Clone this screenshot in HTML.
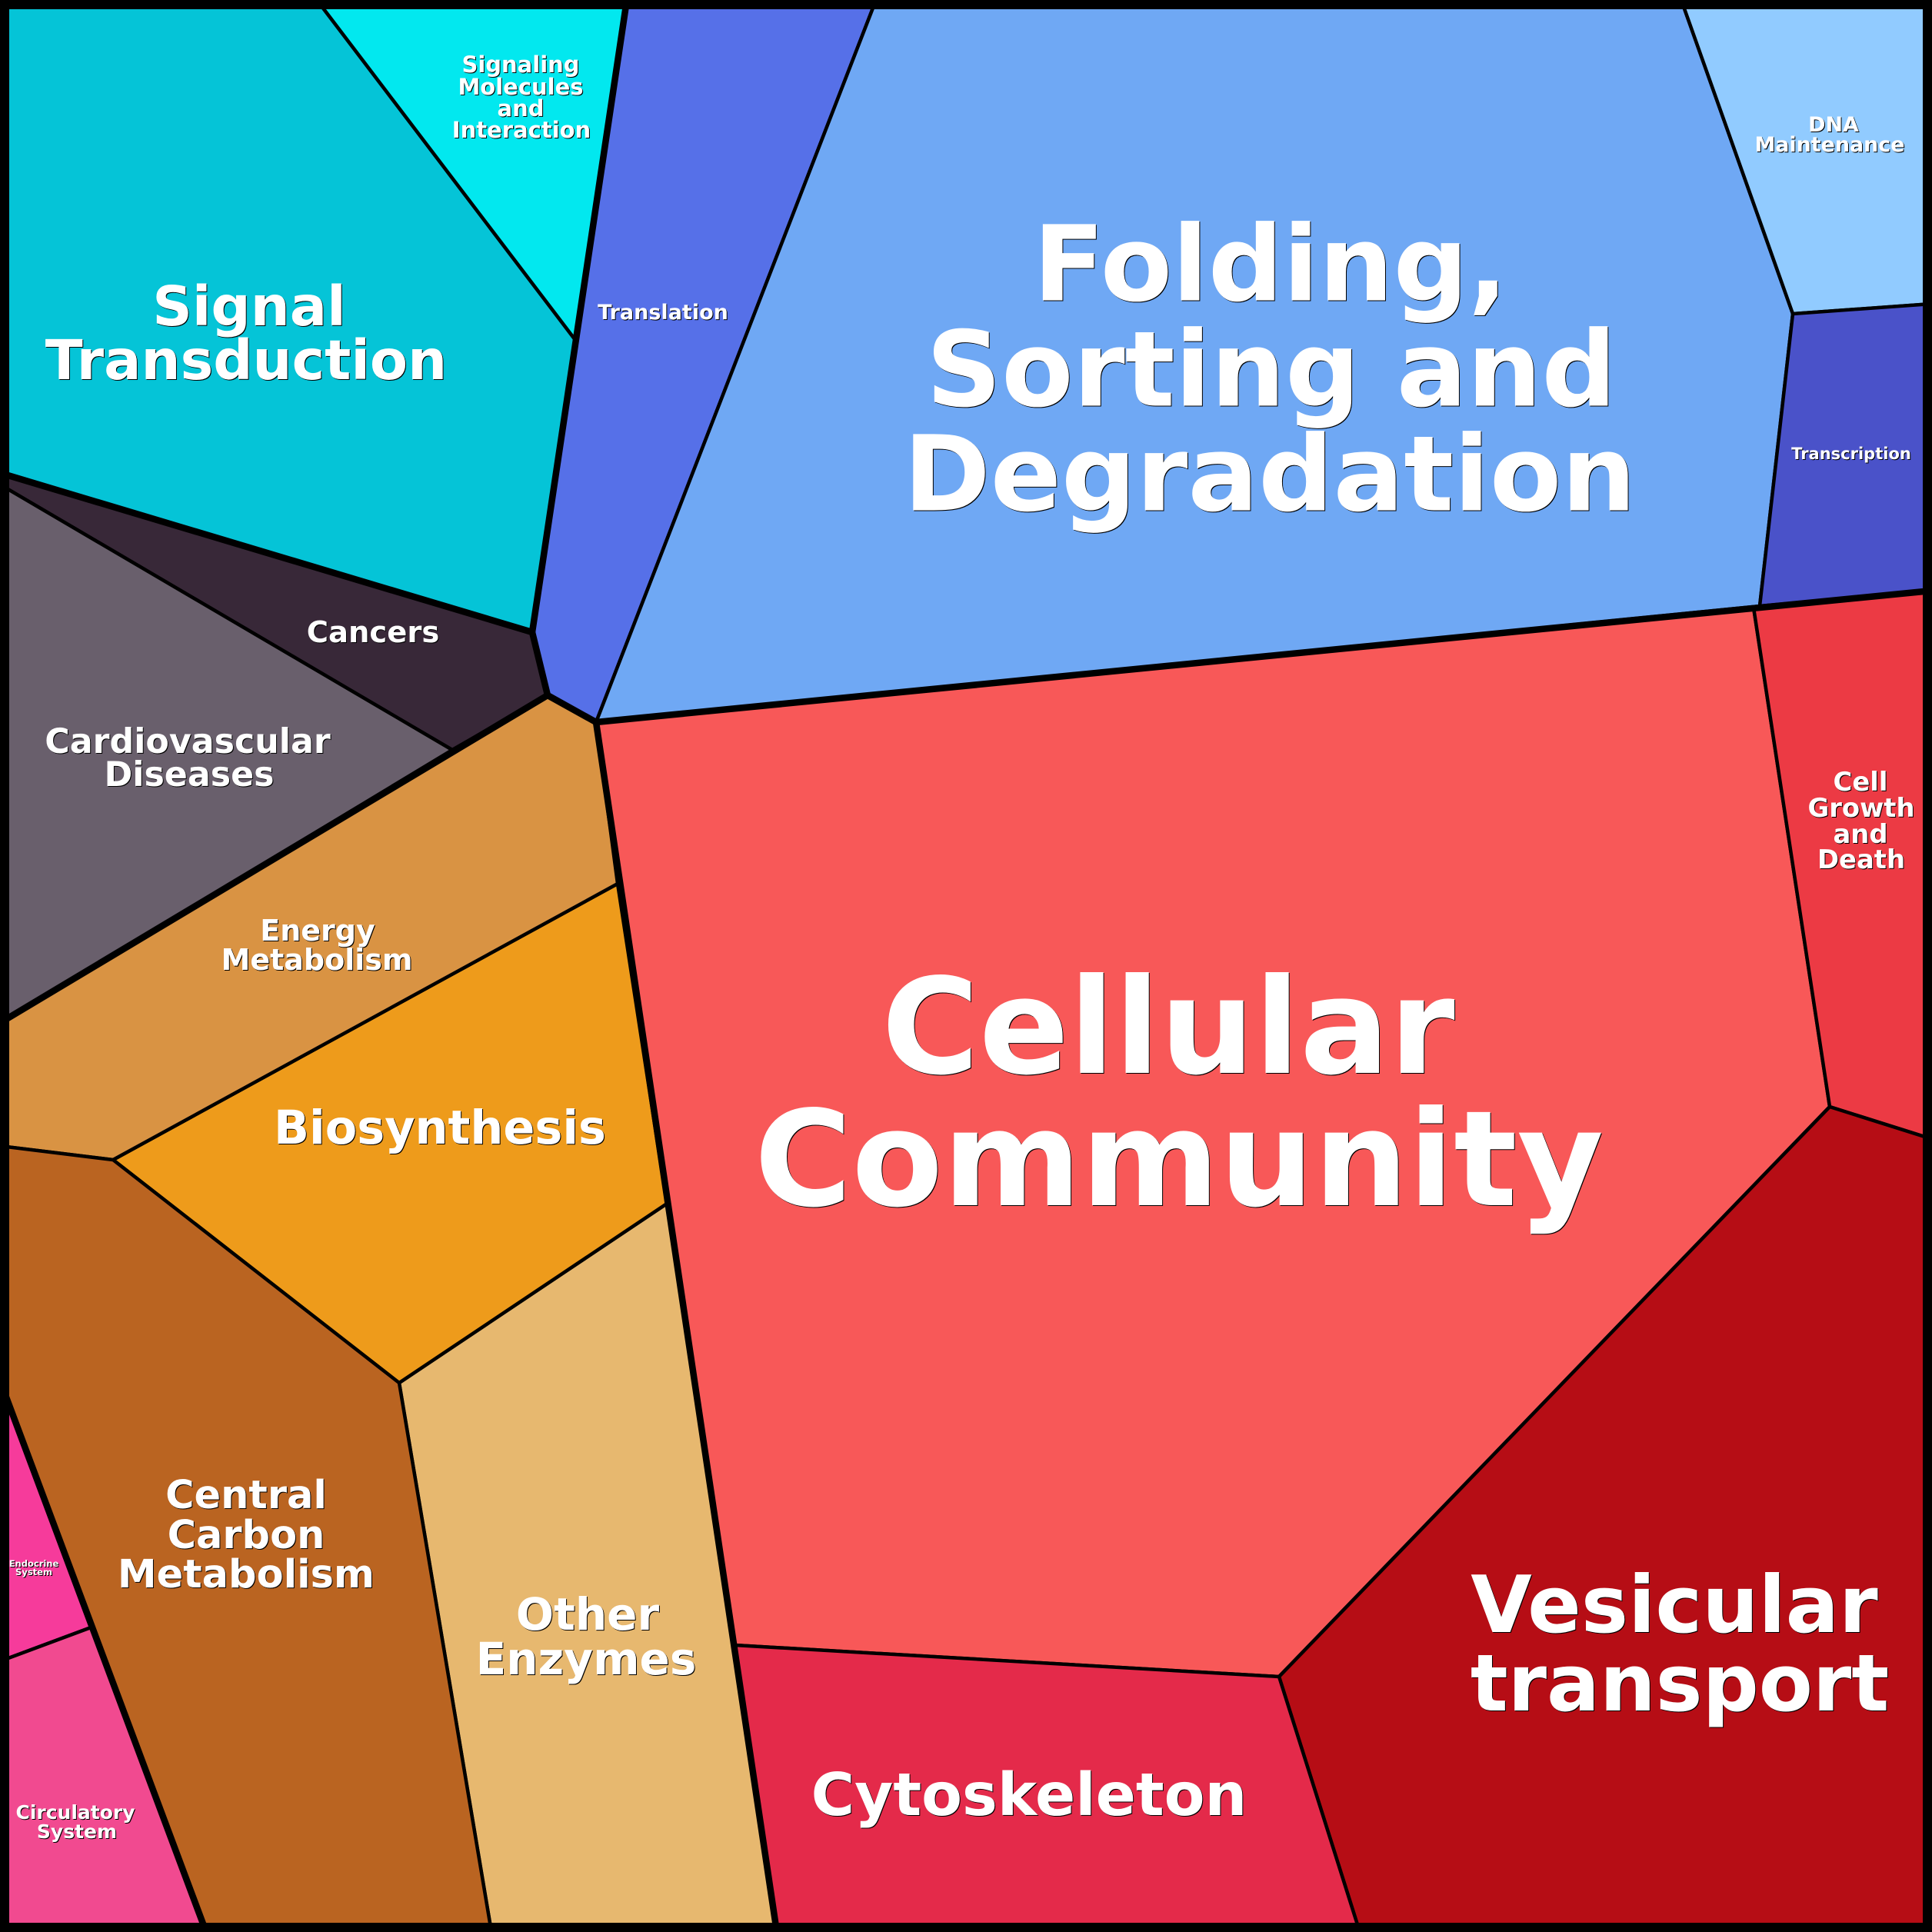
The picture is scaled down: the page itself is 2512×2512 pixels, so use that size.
<!DOCTYPE html>
<html>
<head>
<meta charset="utf-8">
<style>
html,body{margin:0;padding:0;background:#000;width:2512px;height:2512px;overflow:hidden}
svg{display:block}
text{font-family:"DejaVu Sans","Liberation Sans",sans-serif;font-weight:700;fill:#fff;text-anchor:middle}
</style>
</head>
<body>
<svg xmlns="http://www.w3.org/2000/svg" width="2512" height="2512" viewBox="0 0 2512 2512">
<rect width="2512" height="2512" fill="#000"/>
<g stroke="#000" stroke-width="4.5" stroke-linejoin="round">
<polygon fill="#05C4D7" points="0,613 0,0 412,0 748,442 692,822"/>
<polygon fill="#02E8EF" points="412,0 815,0 748,442"/>
<polygon fill="#5670E8" points="815,0 1139,0 775,939 712,904 692,822"/>
<polygon fill="#6FA8F4" points="1139,0 2186,0 2331,408 2288,788 775,939"/>
<polygon fill="#91CBFF" points="2186,0 2512,0 2512,395 2331,408"/>
<polygon fill="#4A52C9" points="2331,408 2512,395 2512,768 2288,788"/>
<polygon fill="#F85858" points="775,939 2280,790 2379,1439 1663,2180 955,2139"/>
<polygon fill="#EC3A44" points="2280,790 2512,768 2512,1481 2379,1439"/>
<polygon fill="#B60D15" points="2379,1439 2512,1481 2512,2512 1768,2512 1663,2180"/>
<polygon fill="#E42A4A" points="955,2139 1663,2180 1768,2512 1010,2512"/>
<polygon fill="#E7B86F" points="867,1565 1010,2512 639,2512 519,1798"/>
<polygon fill="#EE9B1B" points="803,1149 867,1565 519,1798 147,1508"/>
<polygon fill="#D99343" points="712,904 775,939 803,1149 147,1508 0,1490 0,1330"/>
<polygon fill="#BA6421" points="0,1490 147,1508 519,1798 639,2512 268,2512 0,1795"/>
<polygon fill="#F63B9B" points="0,1795 121,2115 0,2160"/>
<polygon fill="#F14A90" points="0,2160 121,2115 268,2512 0,2512"/>
<polygon fill="#382838" points="0,613 692,822 712,904 588,975 0,630"/>
<polygon fill="#695F6C" points="0,630 588,975 0,1330"/>
</g>
<g stroke="#000" stroke-width="8.5" fill="none" stroke-linejoin="round" stroke-linecap="round">
<polyline points="0,615 692,822 815,0"/>
<polyline points="692,822 712,904 775,939 1010,2512"/>
<polyline points="712,904 0,1330"/>
<polyline points="775,939 2512,768"/>
<polyline points="268,2512 0,1795"/>
</g>
<rect x="6" y="6" width="2500" height="2500" fill="none" stroke="#000" stroke-width="12"/>
<g style="filter:drop-shadow(1.5px 1.5px 0 #000)">
<g font-size="172.5">
<text x="1519" y="1395">Cellular</text>
<text x="1533" y="1567">Community</text>
</g>
<g font-size="136">
<text x="1652" y="390.5">Folding,</text>
<text x="1653" y="527.5">Sorting and</text>
<text x="1651" y="663.5">Degradation</text>
</g>
<g font-size="71.7">
<text x="324" y="423">Signal</text>
<text x="320" y="493">Transduction</text>
</g>
<g font-size="29">
<text x="677" y="94">Signaling</text>
<text x="677" y="123">Molecules</text>
<text x="677" y="151">and</text>
<text x="678" y="179">Interaction</text>
</g>
<text x="862" y="415" font-size="27">Translation</text>
<g font-size="26.9">
<text x="2384" y="171">DNA</text>
<text x="2379" y="197">Maintenance</text>
</g>
<text x="2407" y="597" font-size="21">Transcription</text>
<g font-size="33.8">
<text x="2419" y="1028">Cell</text>
<text x="2420" y="1062">Growth</text>
<text x="2419" y="1096">and</text>
<text x="2420" y="1129">Death</text>
</g>
<g font-size="102.8">
<text x="2177" y="2122">Vesicular</text>
<text x="2184" y="2224" font-size="102.2">transport</text>
</g>
<text x="1338" y="2360" font-size="77">Cytoskeleton</text>
<g font-size="58">
<text x="764" y="2119">Other</text>
<text x="762" y="2177">Enzymes</text>
</g>
<text x="572" y="1487" font-size="60.4">Biosynthesis</text>
<g font-size="38">
<text x="413" y="1223">Energy</text>
<text x="412" y="1261">Metabolism</text>
</g>
<g font-size="51">
<text x="320" y="1961">Central</text>
<text x="320" y="2013">Carbon</text>
<text x="320" y="2064">Metabolism</text>
</g>
<g font-size="11.5">
<text x="44" y="2037">Endocrine</text>
<text x="44" y="2048">System</text>
</g>
<g font-size="25">
<text x="98" y="2365">Circulatory</text>
<text x="100" y="2390">System</text>
</g>
<g font-size="44.3">
<text x="244" y="979">Cardiovascular</text>
<text x="246" y="1022">Diseases</text>
</g>
<text x="485" y="835" font-size="38.5">Cancers</text>
</g>
</svg>
</body>
</html>
